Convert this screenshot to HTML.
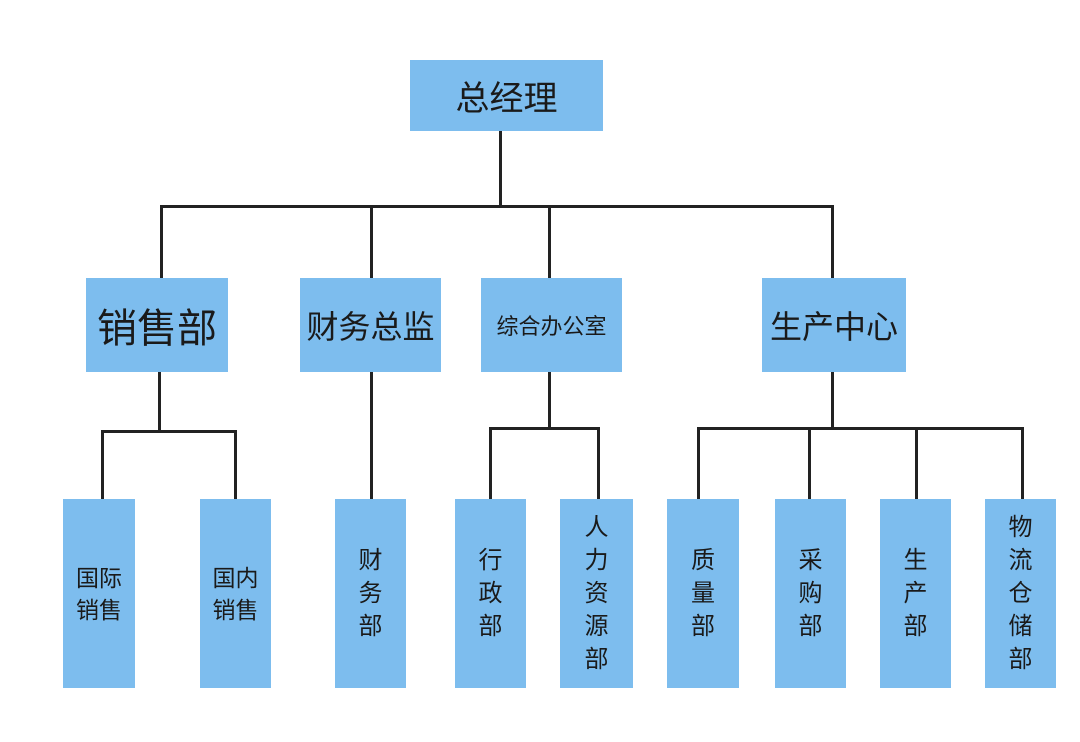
<!DOCTYPE html>
<html><head><meta charset="utf-8"><style>
body{margin:0;width:1080px;height:742px;background:#fff;position:relative;overflow:hidden;font-family:"Liberation Sans","Noto Sans CJK SC",sans-serif;color:#1a1a1a}
.b{position:absolute;background:#7dbdee;display:flex;align-items:center;justify-content:center;text-align:center}
.l{position:absolute;background:#222}
.v{font-size:24px;line-height:33px;width:1em;word-wrap:break-word}
</style></head><body>
<div class="l" style="left:499px;top:131px;width:3px;height:77px"></div>
<div class="l" style="left:161px;top:205px;width:673px;height:3px"></div>
<div class="l" style="left:160px;top:205px;width:3px;height:73px"></div>
<div class="l" style="left:370px;top:205px;width:3px;height:73px"></div>
<div class="l" style="left:548px;top:205px;width:3px;height:73px"></div>
<div class="l" style="left:831px;top:205px;width:3px;height:73px"></div>
<div class="l" style="left:158px;top:372px;width:3px;height:60px"></div>
<div class="l" style="left:101px;top:430px;width:136px;height:3px"></div>
<div class="l" style="left:101px;top:430px;width:3px;height:70px"></div>
<div class="l" style="left:234px;top:430px;width:3px;height:70px"></div>
<div class="l" style="left:370px;top:372px;width:3px;height:128px"></div>
<div class="l" style="left:548px;top:372px;width:3px;height:57px"></div>
<div class="l" style="left:489px;top:427px;width:111px;height:3px"></div>
<div class="l" style="left:489px;top:427px;width:3px;height:73px"></div>
<div class="l" style="left:597px;top:427px;width:3px;height:73px"></div>
<div class="l" style="left:831px;top:372px;width:3px;height:57px"></div>
<div class="l" style="left:697px;top:427px;width:327px;height:3px"></div>
<div class="l" style="left:697px;top:427px;width:3px;height:73px"></div>
<div class="l" style="left:808px;top:427px;width:3px;height:73px"></div>
<div class="l" style="left:915px;top:427px;width:3px;height:73px"></div>
<div class="l" style="left:1021px;top:427px;width:3px;height:73px"></div>

<div class="b" style="left:410px;top:60px;width:193px;height:71px;font-size:34px">总经理</div>
<div class="b" style="left:86px;top:278px;width:142px;height:94px;font-size:40px">销售部</div>
<div class="b" style="left:300px;top:278px;width:141px;height:94px;font-size:32px">财务总监</div>
<div class="b" style="left:481px;top:278px;width:141px;height:94px;font-size:22px">综合办公室</div>
<div class="b" style="left:762px;top:278px;width:144px;height:94px;font-size:32px">生产中心</div>

<div class="b" style="left:63px;top:499px;width:72px;height:189px;font-size:23px;line-height:32px">国际<br>销售</div>
<div class="b" style="left:200px;top:499px;width:71px;height:189px;font-size:23px;line-height:32px">国内<br>销售</div>
<div class="b" style="left:335px;top:499px;width:71px;height:189px"><div class="v">财务部</div></div>
<div class="b" style="left:455px;top:499px;width:71px;height:189px"><div class="v">行政部</div></div>
<div class="b" style="left:560px;top:499px;width:73px;height:189px"><div class="v">人力资源部</div></div>
<div class="b" style="left:667px;top:499px;width:72px;height:189px"><div class="v">质量部</div></div>
<div class="b" style="left:775px;top:499px;width:71px;height:189px"><div class="v">采购部</div></div>
<div class="b" style="left:880px;top:499px;width:71px;height:189px"><div class="v">生产部</div></div>
<div class="b" style="left:985px;top:499px;width:71px;height:189px"><div class="v">物流仓储部</div></div>
</body></html>
